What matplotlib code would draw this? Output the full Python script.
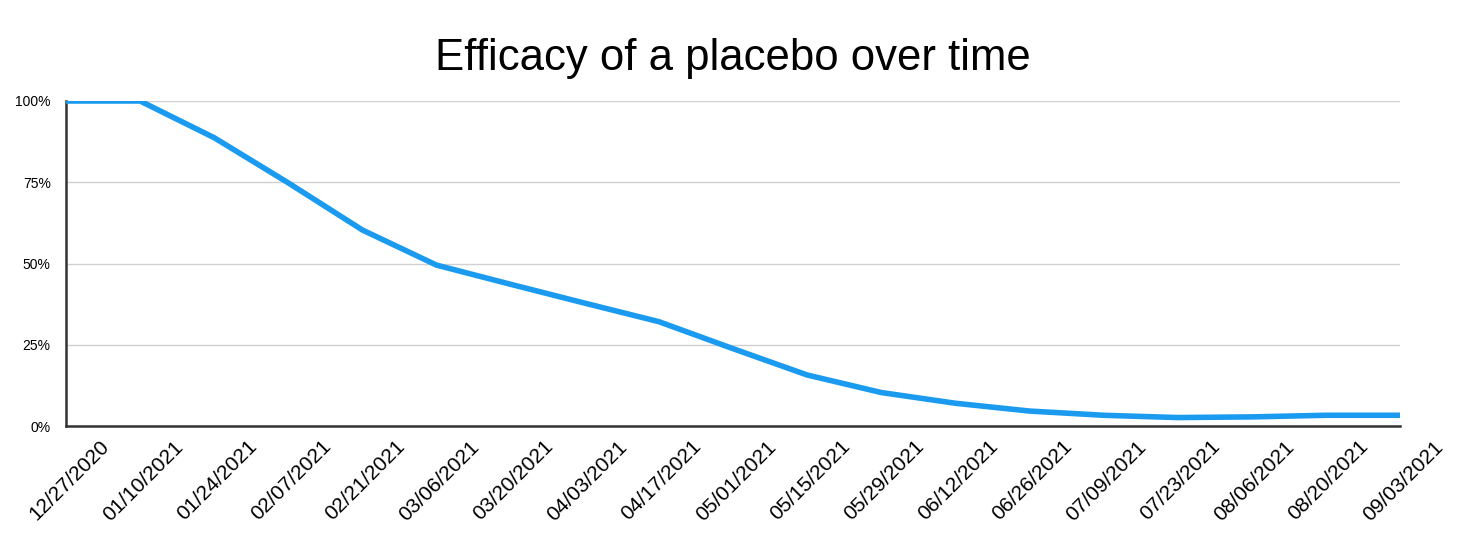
import numpy as np
import matplotlib
matplotlib.use("Agg")
import matplotlib.pyplot as plt
import matplotlib.transforms as mtransforms

plt.rcParams['font.family'] = ['Liberation Sans', 'DejaVu Sans']

# data
dates = ['12/27/2020', '01/10/2021', '01/24/2021', '02/07/2021', '02/21/2021',
         '03/06/2021', '03/20/2021', '04/03/2021', '04/17/2021', '05/01/2021',
         '05/15/2021', '05/29/2021', '06/12/2021', '06/26/2021', '07/09/2021',
         '07/23/2021', '08/06/2021', '08/20/2021', '09/03/2021']
efficacy = [100, 100, 88.7, 74.8, 60.3, 49.5, 43.6, 37.8, 32.1, 23.8,
            15.7, 10.3, 7.0, 4.6, 3.3, 2.6, 2.8, 3.3, 3.3]
yticks = [0, 25, 50, 75, 100]
ytick_labels = ['0%', '25%', '50%', '75%', '100%']

fig = plt.figure(figsize=(14.65, 5.44), dpi=100)
ax = fig.add_axes([66/1465, 1 - 426/544, (1400 - 66)/1465, (426 - 101)/544])

x = np.arange(len(dates))
ax.plot(x, efficacy, color='#1a9bf0', lw=4, solid_capstyle='butt', zorder=3)

ax.set_xlim(0, len(dates) - 1)
ax.set_ylim(0, 100)
ax.set_yticks(yticks)
ax.set_yticklabels(ytick_labels, fontsize=10)
ax.yaxis.grid(True, color='#d0d0d0', lw=1)
ax.set_axisbelow(True)
ax.tick_params(axis='y', length=0, pad=11)
ax.tick_params(axis='x', length=0, pad=0)

ax.set_xticks(x)
ax.set_xticklabels(dates, fontsize=15, rotation=45, ha='right', va='top',
                   rotation_mode='anchor')
shift = mtransforms.ScaledTranslation(0.33, -0.11, fig.dpi_scale_trans)
for lbl in ax.get_xticklabels():
    lbl.set_transform(lbl.get_transform() + shift)

for side in ['top', 'right']:
    ax.spines[side].set_visible(False)
for side in ['left', 'bottom']:
    ax.spines[side].set_color('#333333')
    ax.spines[side].set_linewidth(1.8)

fig.text(0.5, 1 - 70/544, 'Efficacy of a placebo over time', fontsize=31.5,
         ha='center', va='baseline')
# the axis title sits mostly outside the left edge, as in the source image
fig.text(-0.002, 1 - 263/544, 'VE', fontsize=10, rotation=90,
         ha='center', va='center')

fig.savefig('out.png', dpi=100)
